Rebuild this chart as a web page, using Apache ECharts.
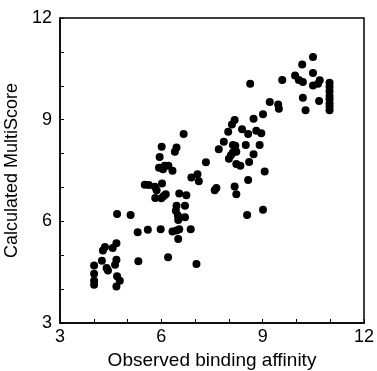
<!DOCTYPE html>
<html><head><meta charset="utf-8">
<script src="https://cdn.jsdelivr.net/npm/echarts@6/dist/echarts.min.js"></script>
<style>html,body{margin:0;padding:0;background:#fff}#c{width:377px;height:371px}</style>
</head><body><div id="c"></div>
<script>
var xTickLabels = [3, 6, 9, 12];
var yTickLabels = [3, 6, 9, 12];
var observed = [4.01,4.01,4.01,4.01,4.24,4.27,4.33,4.38,4.42,4.56,4.67,4.63,4.67,4.69,4.69,4.77,4.67,5.09,5.30,5.32,5.60,5.51,5.63,5.81,5.82,5.86,5.95,6.01,5.93,6.05,6.10,6.21,6.33,6.02,6.00,6.07,6.13,5.98,6.20,6.40,6.45,6.66,6.53,6.74,6.45,6.43,6.70,6.49,6.50,6.70,6.33,6.45,6.53,6.50,6.87,6.89,7.07,7.11,7.04,7.32,7.58,7.63,7.70,7.85,7.98,8.09,8.17,8.12,8.19,8.00,8.06,8.12,8.22,8.17,8.22,8.22,8.34,8.39,8.50,8.57,8.60,8.57,8.54,8.63,8.73,8.73,8.81,8.96,8.91,9.01,9.06,9.01,9.21,9.46,9.48,9.58,9.96,10.07,10.19,10.17,10.19,10.27,10.49,10.49,10.49,10.64,10.69,10.67,10.98,10.98,10.98,10.98,10.98,10.98,10.98,10.98];
var calculated = [4.70,4.45,4.25,4.13,4.84,5.14,5.24,4.62,4.55,5.21,5.35,4.72,4.87,6.22,4.38,4.25,4.08,6.19,5.68,4.82,5.75,7.08,7.07,7.02,6.69,6.92,7.90,8.20,7.58,7.54,7.64,7.64,7.49,7.12,6.68,6.75,6.80,5.77,4.94,8.05,8.18,8.58,6.82,6.77,6.46,6.31,6.46,6.17,6.04,6.12,5.70,5.73,5.77,5.48,5.77,7.29,7.39,7.18,4.74,7.74,6.92,6.98,8.13,8.35,8.64,8.86,8.99,8.25,8.23,7.85,7.95,8.03,8.05,7.03,6.80,7.69,7.64,8.72,8.25,8.58,7.75,7.22,6.19,10.06,7.98,9.03,8.67,8.60,8.25,9.16,7.47,6.34,9.52,9.45,9.32,10.17,10.30,10.17,10.11,10.63,9.65,9.28,10.85,10.38,10.01,10.06,10.16,9.55,10.09,9.97,9.84,9.70,9.60,9.48,9.38,9.28];
var points = observed.map(function(x, i){ return [x, calculated[i]]; });
var font = '"Liberation Sans", Arial, sans-serif';
var chart = echarts.init(document.getElementById('c'));
function axisCommon(name, gap, labels, isY, nameSize) {
  return {
    type: 'value', min: 3, max: 12, interval: 1,
    name: name, nameLocation: 'middle', nameGap: gap,
    nameTextStyle: {color: '#000', fontSize: nameSize, fontFamily: font},
    axisLine: {show: true, lineStyle: {color: '#000', width: 1.5}},
    axisTick: {show: true, inside: true, length: 4, lineStyle: {color: '#000'}},
    axisLabel: {color: '#000', fontSize: 18, fontFamily: font, margin: isY ? 8 : 5,
      formatter: function(v){ return labels.indexOf(v) >= 0 ? String(v) : ''; }},
    splitLine: {show: false}
  };
}
var xa = axisCommon('Observed binding affinity', 25, xTickLabels, false, 19);
var ya = axisCommon('Calculated MultiScore', 36, yTickLabels, true, 18);
chart.setOption({
  animation: false,
  grid: {left: 60, right: 13, top: 18, bottom: 48, show: true, borderColor: '#000', borderWidth: 1.5,
         containLabel: false, outerBoundsMode: 'none'},
  xAxis: xa,
  yAxis: ya,
  series: [{type: 'scatter', data: points, symbolSize: 8, itemStyle: {color: '#000', opacity: 1}}]
});
</script></body></html>
